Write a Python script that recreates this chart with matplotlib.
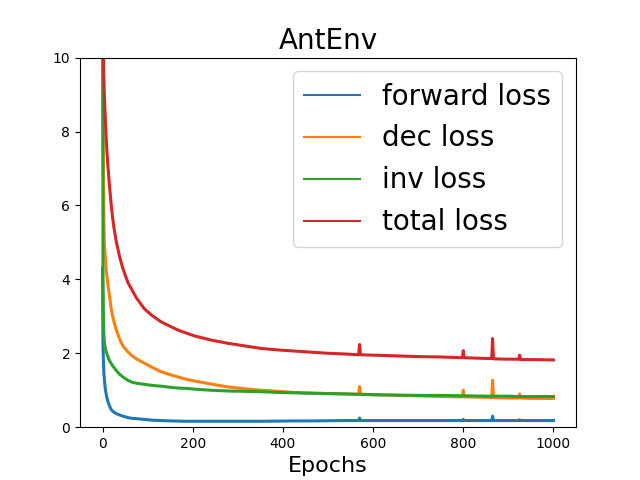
import matplotlib
matplotlib.use('Agg')
import matplotlib.pyplot as plt

epochs = [0, 1, 2, 3, 4, 6, 8, 10, 12, 14,
          16, 19, 22, 25, 30, 38, 45, 56, 65, 75,
          93, 110, 130, 150, 167, 185, 204, 240, 278, 315,
          352, 390, 426, 463, 500, 540, 568, 570, 572, 600,
          650, 700, 750, 798, 800, 802, 850, 863, 865, 867,
          900, 923, 925, 927, 950, 1000]

forward_loss = [4.3, 2.2, 1.75, 1.45, 1.3, 1.05, 0.9, 0.78, 0.69, 0.62,
                0.56, 0.48, 0.44, 0.41, 0.37, 0.33, 0.3, 0.26, 0.24, 0.23,
                0.21, 0.19, 0.18, 0.17, 0.165, 0.16, 0.16, 0.16, 0.16, 0.16,
                0.16, 0.165, 0.17, 0.17, 0.175, 0.18, 0.18, 0.25, 0.18, 0.18,
                0.18, 0.18, 0.18, 0.18, 0.21, 0.18, 0.18, 0.18, 0.3, 0.18,
                0.18, 0.18, 0.2, 0.18, 0.18, 0.18]

dec_loss = [12.0, 9.0, 7.0, 5.8, 5.0, 4.6, 4.3, 4.05, 3.85, 3.68,
            3.5, 3.22, 3.02, 2.87, 2.65, 2.38, 2.2, 2.04, 1.94, 1.85,
            1.73, 1.62, 1.5, 1.42, 1.36, 1.3, 1.25, 1.17, 1.09, 1.04,
            1.0, 0.97, 0.94, 0.92, 0.91, 0.9, 0.89, 1.1, 0.89, 0.88,
            0.86, 0.85, 0.83, 0.82, 1.0, 0.82, 0.81, 0.8, 1.27, 0.8,
            0.79, 0.79, 0.9, 0.79, 0.78, 0.78]

inv_loss = [14.0, 4.0, 2.8, 2.5, 2.3, 2.15, 2.05, 1.97, 1.9, 1.84,
            1.79, 1.73, 1.67, 1.62, 1.54, 1.43, 1.36, 1.27, 1.22, 1.19,
            1.16, 1.13, 1.11, 1.08, 1.06, 1.05, 1.03, 1.0, 0.98, 0.97,
            0.96, 0.94, 0.93, 0.92, 0.91, 0.9, 0.89, 0.89, 0.89, 0.88,
            0.87, 0.86, 0.86, 0.85, 0.85, 0.85, 0.84, 0.84, 0.84, 0.84,
            0.84, 0.83, 0.83, 0.83, 0.83, 0.83]

total_loss = [14.0, 11.5, 10.1, 9.4, 9.0, 8.4, 7.85, 7.4, 7.05, 6.75,
              6.45, 6.05, 5.7, 5.42, 5.05, 4.6, 4.3, 3.92, 3.72, 3.5,
              3.2, 3.02, 2.85, 2.73, 2.63, 2.55, 2.47, 2.36, 2.27, 2.2,
              2.13, 2.09, 2.06, 2.03, 2.0, 1.98, 1.96, 2.24, 1.96, 1.95,
              1.93, 1.91, 1.9, 1.88, 2.07, 1.88, 1.86, 1.86, 2.4, 1.85,
              1.84, 1.84, 1.95, 1.83, 1.83, 1.82]

fig, ax = plt.subplots(figsize=(6.4, 4.8), dpi=100)

ax.plot(epochs, forward_loss, label='forward loss', linewidth=2.2)
ax.plot(epochs, dec_loss, label='dec loss', linewidth=2.2)
ax.plot(epochs, inv_loss, label='inv loss', linewidth=2.2)
ax.plot(epochs, total_loss, label='total loss', linewidth=2.2)

ax.set_ylim(0, 10)
ax.set_title('AntEnv', fontsize=20)
ax.set_xlabel('Epochs', fontsize=16)
leg = ax.legend(fontsize=20)
for line in leg.get_lines():
    line.set_linewidth(1.5)

fig.savefig('out.png', dpi=100)
